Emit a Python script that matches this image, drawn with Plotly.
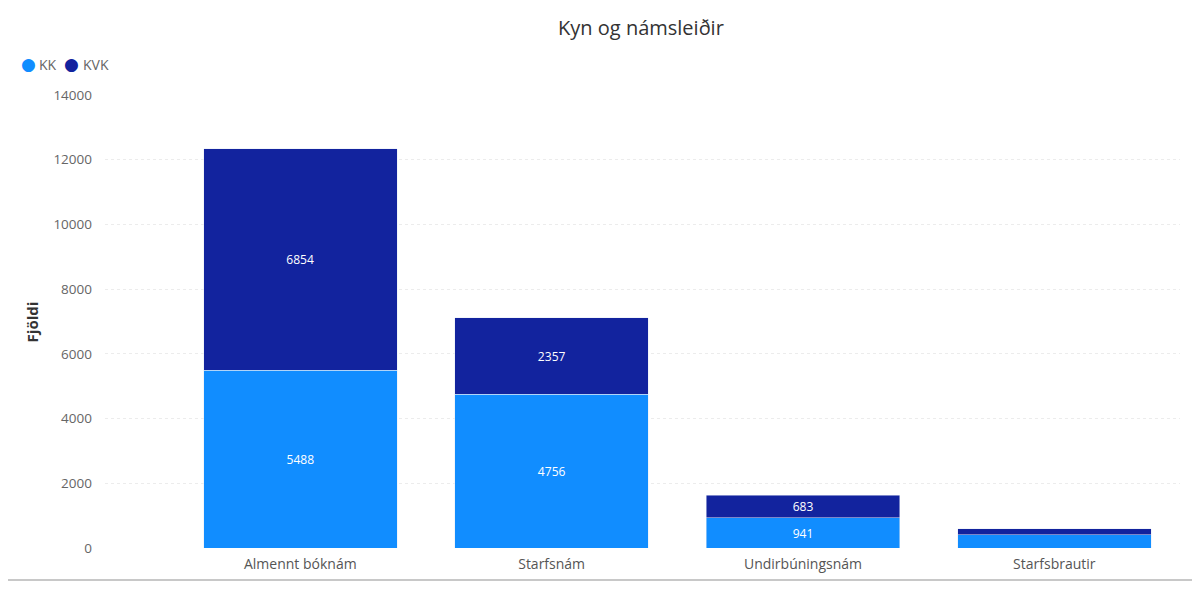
import plotly.graph_objects as go

categories = ["Almennt bóknám", "Starfsnám", "Undirbúningsnám", "Starfsbrautir"]
kk = [5488, 4756, 941, 410]
kvk = [6854, 2357, 683, 180]
kk_labels = ["5488", "4756", "941", ""]
kvk_labels = ["6854", "2357", "683", ""]
y_ticks = [0, 2000, 4000, 6000, 8000, 10000, 12000, 14000]
series_names = ["KK", "KVK"]
series_colors = ["#118DFF", "#12239E"]

fig = go.Figure()
for name, vals, labels, color in zip(series_names, [kk, kvk], [kk_labels, kvk_labels], series_colors):
    fig.add_trace(go.Bar(
        name=name, x=categories, y=vals, marker_color=color, showlegend=False,
        text=labels, textposition="inside", insidetextanchor="middle",
        textfont=dict(color="white", size=15, family="Open Sans"), width=0.77,
    ))

# custom legend (circle + label) built from the series names/colours
legend_circle_x = [-0.0707, -0.0307]
legend_text_x = [-0.0635, -0.0226]
legend_annotations = []
for name, color, cx, tx in zip(series_names, series_colors, legend_circle_x, legend_text_x):
    legend_annotations.append(dict(text="●", xref="paper", yref="paper", x=cx, y=1.068,
                                   showarrow=False, xanchor="center", yanchor="middle",
                                   font=dict(family="DejaVu Sans", size=17, color=color)))
    legend_annotations.append(dict(text=name, xref="paper", yref="paper", x=tx, y=1.068,
                                   showarrow=False, xanchor="left", yanchor="middle",
                                   font=dict(family="Open Sans", size=14, color="#666666")))

fig.update_layout(
    barmode="stack",
    width=1184, height=573,
    paper_bgcolor="white", plot_bgcolor="white",
    margin=dict(l=97, r=12, t=87, b=33, autoexpand=False),
    title=dict(text="Kyn og námsleiðir", x=0.5346, xanchor="center", y=0.965, yanchor="middle",
               font=dict(family="Open Sans", size=20, color="#333333")),
    showlegend=False,
    font=dict(family="Open Sans"),
    uniformtext=dict(mode="show", minsize=8),
    annotations=[
        dict(text="<b>Fjöldi</b>", xref="paper", yref="paper", x=-0.068, y=0.5,
             textangle=-90, showarrow=False, xanchor="center", yanchor="middle",
             font=dict(family="Open Sans", size=15, color="#333333")),
    ] + legend_annotations,
)
fig.update_xaxes(
    range=[-0.777, 3.5], showgrid=False, showline=False, ticks="", automargin=False,
    ticklabelstandoff=6,
    tickfont=dict(family="Open Sans", size=14, color="#555555"),
)
fig.update_yaxes(
    range=[0, 14000], tickvals=y_ticks, ticktext=[str(v) for v in y_ticks],
    showgrid=True, gridcolor="#ECECEC", griddash="dot", gridwidth=1,
    zeroline=False, showline=False, automargin=False, ticklabelstandoff=12,
    tickfont=dict(family="Open Sans", size=13.5, color="#666666"),
)
fig.add_shape(type="line", xref="paper", yref="paper", x0=-0.1, x1=1.02, y0=-0.0705, y1=-0.0705,
              line=dict(color="#C8C8C8", width=2))
fig.write_html("out.html")
